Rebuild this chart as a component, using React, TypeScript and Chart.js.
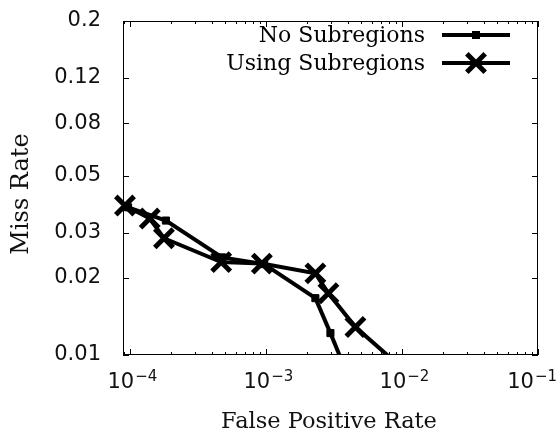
import React, { useEffect, useRef } from 'react';
import { Chart, registerables } from 'chart.js';

Chart.register(...registerables);

const seriesNames = ['No Subregions', 'Using Subregions'];
const noSubFpr = [9.7e-5, 1.84e-4, 4.76e-4, 9.7e-4, 2.31e-3, 2.98e-3, 3.58e-3];
const noSubMiss = [0.0376, 0.0334, 0.024, 0.0226, 0.01665, 0.01217, 0.0096];
const subFpr = [9.2e-5, 1.4e-4, 1.78e-4, 4.69e-4, 9.34e-4, 2.31e-3, 2.88e-3, 4.55e-3, 8.5e-3];
const subMiss = [0.0382, 0.034, 0.0285, 0.023, 0.0227, 0.0208, 0.0174, 0.01285, 0.0096];
const yTickValues = [0.01, 0.02, 0.03, 0.05, 0.08, 0.12, 0.2];
const yTickLabels = ['0.01', '0.02', '0.03', '0.05', '0.08', '0.12', '0.2'];
const xDecades = [-4, -3, -2, -1];
const xTitle = 'False Positive Rate';
const yTitle = 'Miss Rate';

const TICK_FONT = '"DejaVu Sans", sans-serif';
const SERIF_FONT = '"DejaVu Serif", serif';

const framePlugin = {
  id: 'frameTicks',
  afterDatasetsDraw(chart: any) {
    const { ctx, chartArea } = chart;
    const { left, right, top, bottom } = chartArea;
    const xs = chart.scales.x;
    const ys = chart.scales.y;
    ctx.save();
    ctx.strokeStyle = '#000';
    ctx.lineWidth = 1;
    ctx.strokeRect(left + 0.5, top + 0.5, right - left - 1, bottom - top - 1);
    ctx.beginPath();
    for (let d = -5; d <= -1; d++) {
      for (let m = 1; m <= 9; m++) {
        const v = m * Math.pow(10, d);
        if (v < xs.min * 0.999 || v > xs.max * 1.001) continue;
        const px = Math.round(xs.getPixelForValue(v)) + 0.5;
        const len = m === 1 ? 6 : 3;
        ctx.moveTo(px, bottom);
        ctx.lineTo(px, bottom - len);
        ctx.moveTo(px, top);
        ctx.lineTo(px, top + len);
      }
    }
    for (const v of yTickValues) {
      const py = Math.round(ys.getPixelForValue(v)) + 0.5;
      ctx.moveTo(left, py);
      ctx.lineTo(left + 6, py);
      ctx.moveTo(right, py);
      ctx.lineTo(right - 6, py);
    }
    ctx.stroke();

    // x tick labels 10^d
    ctx.fillStyle = '#111';
    ctx.textBaseline = 'alphabetic';
    ctx.textAlign = 'left';
    for (const d of xDecades) {
      const px = xs.getPixelForValue(Math.pow(10, d));
      ctx.font = '21px ' + TICK_FONT;
      const base = '10';
      const wb = ctx.measureText(base).width;
      ctx.font = '15px ' + TICK_FONT;
      const exp = '\u2212' + String(-d);
      const we = ctx.measureText(exp).width;
      let x0 = px - (wb + we) / 2 + 2;
      if (x0 + wb + we > chart.width - 1) x0 = chart.width - 1 - wb - we;
      ctx.font = '21px ' + TICK_FONT;
      ctx.fillText(base, x0, 388);
      ctx.font = '15px ' + TICK_FONT;
      ctx.fillText(exp, x0 + wb + 1, 381);
    }

    // axis titles
    ctx.fillStyle = '#111';
    ctx.font = '22.5px ' + SERIF_FONT;
    ctx.textAlign = 'center';
    ctx.textBaseline = 'alphabetic';
    ctx.fillText(xTitle, 329, 428);
    ctx.save();
    ctx.translate(19, 194);
    ctx.rotate(-Math.PI / 2);
    ctx.font = '24px ' + SERIF_FONT;
    ctx.fillText(yTitle, 0, 8.7);
    ctx.restore();

    // legend
    const rows = [35, 63];
    ctx.font = '22px ' + SERIF_FONT;
    ctx.textAlign = 'right';
    ctx.textBaseline = 'middle';
    ctx.fillStyle = '#000';
    seriesNames.forEach((name, i) => {
      const y = rows[i];
      ctx.fillText(name, 425, y + 1);
      ctx.beginPath();
      ctx.lineWidth = 4;
      ctx.strokeStyle = '#000';
      ctx.moveTo(442, y);
      ctx.lineTo(510, y);
      ctx.stroke();
      const cx = 476;
      if (i === 0) {
        ctx.fillRect(cx - 4, y - 4, 8, 8);
      } else {
        const o = 13 * Math.SQRT1_2;
        ctx.lineWidth = 5;
        ctx.beginPath();
        ctx.moveTo(cx - o, y - o);
        ctx.lineTo(cx + o, y + o);
        ctx.moveTo(cx - o, y + o);
        ctx.lineTo(cx + o, y - o);
        ctx.stroke();
      }
    });
    ctx.restore();
  },
};

export default function App() {
  const ref = useRef<HTMLCanvasElement | null>(null);
  useEffect(() => {
    if (!ref.current) return;
    const lastRadius = (n: number, r: number) => (c: any) => (c.dataIndex === n - 1 ? 0 : r);
    const chart = new Chart(ref.current, {
      type: 'line',
      data: {
        datasets: [
          {
            label: seriesNames[0],
            data: noSubFpr.map((x, i) => ({ x, y: noSubMiss[i] })),
            borderColor: '#000',
            backgroundColor: '#000',
            borderWidth: 4,
            pointStyle: 'rect',
            pointRadius: lastRadius(noSubFpr.length, 5),
            pointBorderWidth: 1,
            pointBackgroundColor: '#000',
            pointBorderColor: '#000',
            tension: 0,
            clip: { left: false, top: false, right: false, bottom: 0 } as any,
          },
          {
            label: seriesNames[1],
            data: subFpr.map((x, i) => ({ x, y: subMiss[i] })),
            borderColor: '#000',
            backgroundColor: '#000',
            borderWidth: 4,
            pointStyle: 'crossRot',
            pointRadius: lastRadius(subFpr.length, 13),
            pointBorderWidth: 5,
            pointBorderColor: '#000',
            tension: 0,
            clip: { left: false, top: false, right: false, bottom: 0 } as any,
          },
        ],
      },
      options: {
        responsive: false,
        animation: false,
        events: [],
        layout: { padding: { top: 21, right: 19, bottom: 0, left: 0 } },
        plugins: { legend: { display: false }, tooltip: { enabled: false } },
        scales: {
          x: {
            type: 'logarithmic',
            min: 8.9e-5,
            max: 0.1,
            grid: { display: false, drawTicks: false },
            border: { display: false },
            ticks: { display: false },
            afterFit: (s: any) => {
              s.height = 78;
              s.paddingLeft = 0;
              s.paddingRight = 0;
            },
          },
          y: {
            type: 'logarithmic',
            min: 0.01,
            max: 0.2,
            grid: { display: false, drawTicks: false },
            border: { display: false },
            afterBuildTicks: (s: any) => {
              s.ticks = yTickValues.map((v) => ({ value: v }));
            },
            ticks: {
              color: '#111',
              padding: 22,
              font: { family: TICK_FONT, size: 21 },
              callback: (v: any) => {
                const i = yTickValues.indexOf(Number(v));
                return i >= 0 ? yTickLabels[i] : '';
              },
            },
            afterFit: (s: any) => {
              s.width = 123;
              s.paddingTop = 0;
              s.paddingBottom = 0;
            },
          },
        },
      },
      plugins: [framePlugin],
    });
    return () => chart.destroy();
  }, []);
  return (
    <div style={{ position: 'absolute', left: 0, top: 0, width: 557, height: 433, background: '#fff' }}>
      <canvas ref={ref} width={557} height={433} />
    </div>
  );
}
